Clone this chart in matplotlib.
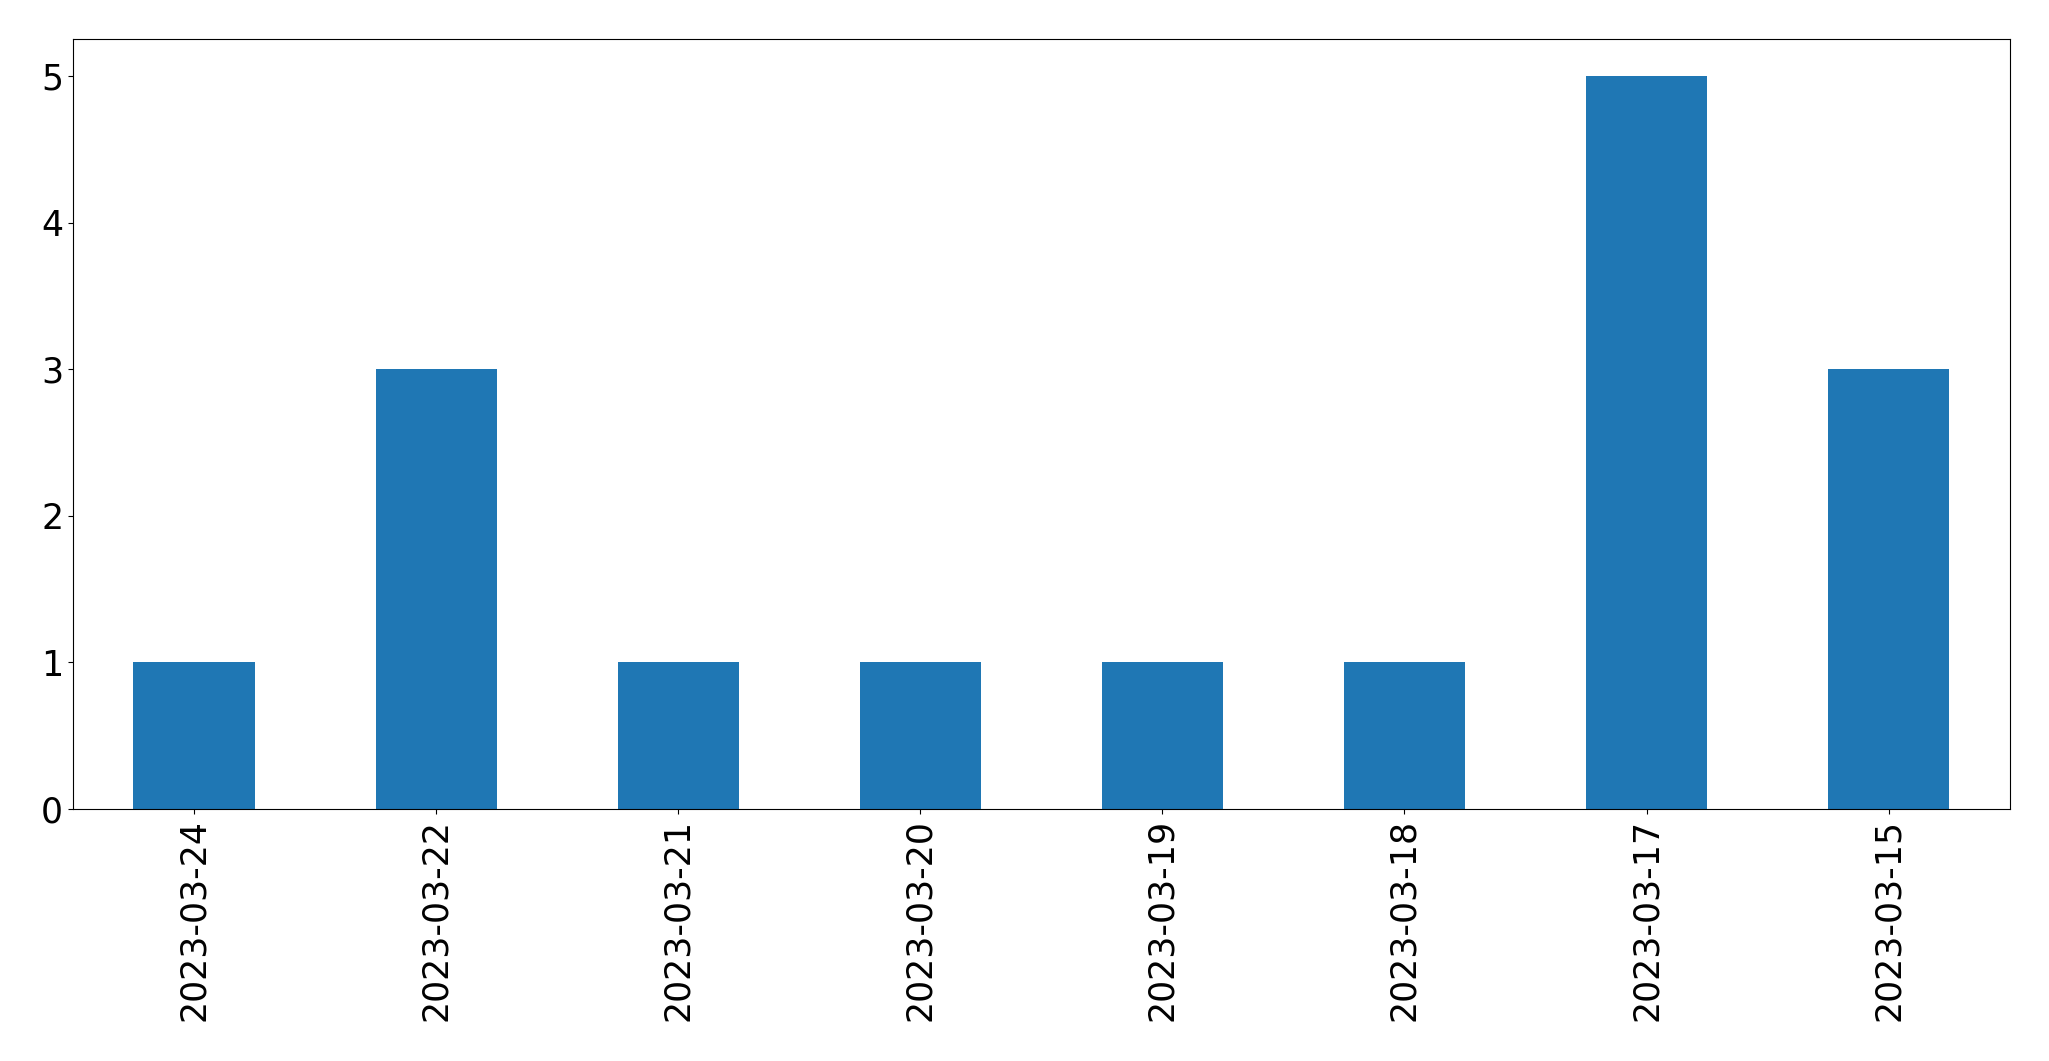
import pandas as pd
import matplotlib.pyplot as plt

# counts per date
dates = [
    "2023-03-24",
    "2023-03-22",
    "2023-03-21",
    "2023-03-20",
    "2023-03-19",
    "2023-03-18",
    "2023-03-17",
    "2023-03-15",
]
counts = [1, 3, 1, 1, 1, 1, 5, 3]

series = pd.Series(counts, index=dates)

fig = plt.figure(figsize=(20.49, 10.61), dpi=100)
ax = fig.add_axes([0.0356, 0.2375, 0.9452, 0.7255])
series.plot(kind="bar", ax=ax, color="#1f77b4", fontsize=25)

plt.savefig("out.png", dpi=100)
